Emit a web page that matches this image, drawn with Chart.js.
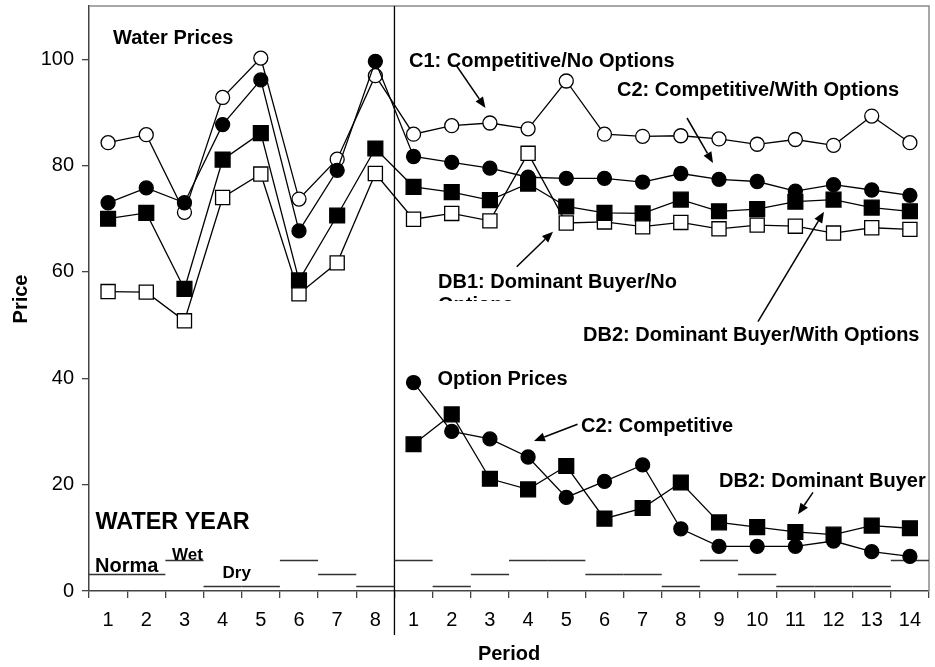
<!DOCTYPE html>
<html>
<head>
<meta charset="utf-8">
<script src="https://cdn.jsdelivr.net/npm/chart.js@4.4.1/dist/chart.umd.min.js"></script>
<style>
  html, body { margin: 0; padding: 0; background: #fff; }
  canvas { display: block; }
</style>
</head>
<body>
<canvas id="chart" width="935" height="667"></canvas>
<script>
// Periods: 8 practice periods, then 14 experimental periods
const periodsBefore = ['1', '2', '3', '4', '5', '6', '7', '8'];
const periodsAfter = ['1', '2', '3', '4', '5', '6', '7', '8', '9', '10', '11', '12', '13', '14'];

// Water prices
const c1Before = [84.3, 85.8, 71.2, 92.8, 100.2, 73.7, 81.2, 96.9];
const c1After = [85.9, 87.5, 88.0, 86.9, 95.9, 85.9, 85.5, 85.6, 85.0, 84.0, 84.9, 83.8, 89.3, 84.3];
const c2Before = [73.0, 75.8, 73.0, 87.7, 96.1, 67.7, 79.1, 99.6];
const c2After = [81.7, 80.6, 79.5, 77.8, 77.6, 77.6, 76.9, 78.5, 77.4, 77.0, 75.2, 76.4, 75.4, 74.4];
const db1Before = [56.3, 56.2, 50.8, 74.0, 78.4, 55.9, 61.7, 78.5];
const db1After = [69.9, 71.0, 69.6, 82.3, 69.2, 69.4, 68.5, 69.3, 68.1, 68.8, 68.6, 67.3, 68.3, 68.0];
const db2Before = [70.0, 71.1, 56.8, 81.1, 86.1, 58.4, 70.6, 83.2];
const db2After = [76.0, 75.0, 73.5, 76.6, 72.3, 71.1, 71.0, 73.6, 71.4, 71.8, 73.2, 73.6, 72.1, 71.4];

// Option prices (experimental periods only)
const optionC2 = [39.2, 30.0, 28.6, 25.2, 17.6, 20.6, 23.7, 11.7, 8.4, 8.4, 8.4, 9.4, 7.4, 6.5];
const optionDB2 = [27.6, 33.2, 21.1, 19.1, 23.5, 13.6, 15.6, 20.4, 12.9, 12.0, 11.1, 10.6, 12.3, 11.8];

// Water year type for each period, drawn as short level marks near the axis
const waterYearBefore = ['Normal', 'Normal', 'Wet', 'Dry', 'Dry', 'Wet', 'Normal', 'Dry'];
const waterYearAfter = ['Wet', 'Dry', 'Normal', 'Wet', 'Wet', 'Normal', 'Normal', 'Dry', 'Wet', 'Normal', 'Dry', 'Dry', 'Dry', 'Wet'];
const waterYearLevel = { Dry: 1.0, Normal: 3.2, Wet: 5.8 };

const yTicks = [0, 20, 40, 60, 80, 100];

const labels = periodsBefore.concat(periodsAfter);
const blanks = periodsBefore.map(() => null);
const waterYears = waterYearBefore.concat(waterYearAfter);

const FONT = '"Liberation Sans", Arial, Helvetica, sans-serif';

function series(label, data, style, filled, radius, order) {
  return {
    label,
    data,
    borderColor: '#000',
    borderWidth: 1.3,
    pointStyle: style,
    pointRadius: radius,
    pointHoverRadius: radius,
    pointBackgroundColor: filled ? '#000' : '#fff',
    pointBorderColor: '#000',
    pointBorderWidth: 1.3,
    tension: 0,
    fill: false,
    spanGaps: false,
    clip: false,
    order
  };
}

const datasets = [
  series('C1: Competitive/No Options', c1Before.concat(c1After), 'circle', false, 7, 4),
  series('DB1: Dominant Buyer/No Options', db1Before.concat(db1After), 'rect', false, 10, 3),
  series('DB2: Dominant Buyer/With Options', db2Before.concat(db2After), 'rect', true, 10.5, 2),
  series('C2: Competitive/With Options', c2Before.concat(c2After), 'circle', true, 7, 1),
  series('Option C2: Competitive', blanks.concat(optionC2), 'circle', true, 7, 1),
  series('Option DB2: Dominant Buyer', blanks.concat(optionDB2), 'rect', true, 10.5, 2)
];

function arrow(ctx, x0, y0, x1, y1) {
  const ang = Math.atan2(y1 - y0, x1 - x0);
  const len = 11, half = 4.5;
  const bx = x1 - len * Math.cos(ang), by = y1 - len * Math.sin(ang);
  ctx.beginPath();
  ctx.moveTo(x0, y0);
  ctx.lineTo(bx, by);
  ctx.stroke();
  ctx.beginPath();
  ctx.moveTo(x1, y1);
  ctx.lineTo(bx + half * Math.sin(ang), by - half * Math.cos(ang));
  ctx.lineTo(bx - half * Math.sin(ang), by + half * Math.cos(ang));
  ctx.closePath();
  ctx.fill();
}

const framePlugin = {
  id: 'frame',
  beforeDatasetsDraw(chart) {
    const { ctx, chartArea: a, scales: { x, y } } = chart;
    ctx.save();
    // top and right frame
    ctx.strokeStyle = '#8a8a8a';
    ctx.lineWidth = 1.5;
    ctx.beginPath();
    ctx.moveTo(a.left, a.top);
    ctx.lineTo(a.right, a.top);
    ctx.lineTo(a.right, a.bottom);
    ctx.stroke();

    // separator between practice and experimental periods
    const n = periodsBefore.length;
    const sepX = (x.getPixelForValue(n - 1) + x.getPixelForValue(n)) / 2;
    ctx.strokeStyle = '#000';
    ctx.lineWidth = 1.3;
    ctx.beginPath();
    ctx.moveTo(sepX, a.top);
    ctx.lineTo(sepX, 635);
    ctx.stroke();

    // water year level marks
    const w = x.getPixelForValue(1) - x.getPixelForValue(0);
    ctx.strokeStyle = '#333';
    ctx.lineWidth = 1.5;
    waterYears.forEach((t, i) => {
      const cx = x.getPixelForValue(i);
      const py = Math.round(y.getPixelForValue(waterYearLevel[t])) + 0.5;
      ctx.beginPath();
      ctx.moveTo(cx - w / 2, py);
      ctx.lineTo(cx + w / 2, py);
      ctx.stroke();
    });
    ctx.restore();
  },
  afterDatasetsDraw(chart) {
    const { ctx } = chart;
    ctx.save();
    ctx.fillStyle = '#000';
    ctx.textBaseline = 'alphabetic';
    ctx.textAlign = 'left';
    const bold = (s) => 'bold ' + s + 'px ' + FONT;

    ctx.font = bold(20);
    ctx.fillText('Water Prices', 113, 43.5);
    ctx.fillText('C1: Competitive/No Options', 409, 67);
    ctx.fillText('C2: Competitive/With Options', 617, 96);
    ctx.fillText('DB1: Dominant Buyer/No', 438, 288);
    ctx.fillText('DB2: Dominant Buyer/With Options', 583, 341);
    ctx.fillText('Option Prices', 437.5, 385);
    ctx.fillText('C2: Competitive', 581, 431.5);
    ctx.fillText('DB2: Dominant Buyer', 719, 487);
    ctx.fillText('Norma', 95, 572.3);

    // second line of the DB1 label, cut off by its text box
    ctx.save();
    ctx.beginPath();
    ctx.rect(430, 290, 260, 11);
    ctx.clip();
    ctx.fillText('Options', 438, 311);
    ctx.restore();

    ctx.font = bold(23.4);
    ctx.fillText('WATER YEAR', 95.5, 529);
    ctx.font = bold(17);
    ctx.fillText('Wet', 172, 560);
    ctx.fillText('Dry', 222.5, 578.3);

    // axis titles
    ctx.font = bold(20);
    ctx.textAlign = 'center';
    ctx.fillText('Period', 509, 660);
    ctx.save();
    ctx.translate(27, 299);
    ctx.rotate(-Math.PI / 2);
    ctx.fillText('Price', 0, 0);
    ctx.restore();

    // callout arrows
    ctx.strokeStyle = '#000';
    ctx.lineWidth = 1.5;
    arrow(ctx, 456, 65, 485.5, 108);
    arrow(ctx, 687, 118, 713, 163);
    arrow(ctx, 516.7, 266.7, 553, 231.7);
    arrow(ctx, 758, 321.7, 824, 211.7);
    arrow(ctx, 577.5, 424.3, 534, 441);
    arrow(ctx, 813, 492.3, 798, 514.3);
    ctx.restore();
  }
};

new Chart(document.getElementById('chart'), {
  type: 'line',
  data: { labels, datasets },
  plugins: [framePlugin],
  options: {
    responsive: false,
    devicePixelRatio: 1,
    animation: false,
    events: [],
    layout: { autoPadding: false, padding: { top: 6, right: 6, bottom: 0, left: 0 } },
    plugins: {
      legend: { display: false },
      tooltip: { enabled: false },
      title: { display: false }
    },
    scales: {
      x: {
        type: 'category',
        offset: true,
        grid: {
          offset: true,
          drawOnChartArea: false,
          drawTicks: true,
          tickLength: 7,
          color: '#444',
          lineWidth: 1.3
        },
        border: { display: true, color: '#444', width: 1.5 },
        ticks: {
          color: '#000',
          font: { family: FONT, size: 20 },
          maxRotation: 0,
          autoSkip: false,
          padding: 10
        },
        afterFit(scale) {
          scale.height = 76;
          scale.paddingLeft = 0;
          scale.paddingRight = 0;
        }
      },
      y: {
        type: 'linear',
        min: 0,
        max: 110,
        afterBuildTicks(scale) { scale.ticks = yTicks.map(v => ({ value: v })); },
        grid: {
          drawOnChartArea: false,
          drawTicks: true,
          tickLength: 7,
          color: '#444',
          lineWidth: 1.3
        },
        border: { display: true, color: '#444', width: 1.5 },
        ticks: {
          color: '#000',
          font: { family: FONT, size: 20 },
          padding: 8
        },
        afterFit(scale) {
          scale.width = 89;
          scale.paddingTop = 0;
          scale.paddingBottom = 0;
        }
      }
    }
  }
});
</script>
</body>
</html>
